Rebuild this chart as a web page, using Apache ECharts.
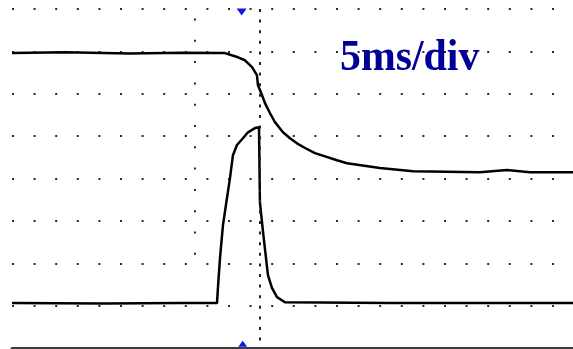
<!DOCTYPE html>
<html>
<head>
<meta charset="utf-8">
<script src="https://cdn.jsdelivr.net/npm/echarts@6/dist/echarts.min.js"></script>
<style>
html,body{margin:0;padding:0;background:#fff;}
#c{width:573px;height:349px;}
</style>
</head>
<body>
<div id="c"></div>
<script>
// Time in ms (5 ms/div), trigger at 0; level in vertical divisions (0 = bottom, 8 = top)
var upperTime  = [-19.08, -15.0, -10.0, -6.0, -2.65, -1.64, -1.10, -0.56, -0.18, -0.10, 0.21, 0.44, 0.83, 1.21, 1.83, 2.37, 2.91, 3.53, 4.30, 6.00, 6.77, 9.31, 11.86, 17.03, 19.11, 20.89, 24.21];
var upperLevel = [6.96, 6.98, 6.95, 6.97, 6.96, 6.86, 6.79, 6.63, 6.44, 6.20, 5.97, 5.78, 5.54, 5.33, 5.09, 4.95, 4.83, 4.72, 4.60, 4.43, 4.36, 4.25, 4.17, 4.15, 4.20, 4.15, 4.15];

var pulseTime  = [-19.08, -12.0, -6.0, -3.26, -3.19, -3.03, -2.80, -2.49, -2.26, -2.03, -1.72, -1.26, -0.87, -0.33, -0.02, 0.05, 0.29, 0.67, 0.98, 1.37, 1.98, 10.0, 24.21];
var pulseLevel = [1.06, 1.05, 1.06, 1.06, 1.42, 2.12, 2.90, 3.54, 4.01, 4.55, 4.79, 4.95, 5.09, 5.19, 5.21, 3.44, 2.74, 1.72, 1.42, 1.20, 1.08, 1.06, 1.06];

var timeRange  = [-19.08, 24.21];
var levelRange = [0, 8];
var triggerMarkerTop    = [-1.36, 7.93];
var triggerMarkerBottom = [-1.28, 0.1];
var centerLineTime = 0;
var auxLineTime = -5;
var auxLineLevels = [2.2, 7.95];
var scaleLabel = '5ms/div';

function pairs(xs, ys){ return xs.map(function(x,i){ return [x, ys[i]]; }); }

var chart = echarts.init(document.getElementById('c'), null, {renderer:'canvas'});
chart.setOption({
  animation: false,
  backgroundColor: '#ffffff',
  grid: {left: 12, right: 0, top: 9, bottom: 1},
  xAxis: {
    type: 'value', min: timeRange[0], max: timeRange[1],
    axisLine: {show: true, lineStyle: {color: '#3c3c3c', width: 3}},
    axisTick: {show: false}, axisLabel: {show: false}, splitLine: {show: false}
  },
  yAxis: {
    type: 'value', min: levelRange[0], max: levelRange[1], interval: 1,
    axisLine: {show: false}, axisTick: {show: false}, axisLabel: {show: false},
    splitLine: {show: true, lineStyle: {color: '#2a2a2a', width: 2, type: [2, 19.6], dashOffset: 0}}
  },
  graphic: [{
    type: 'text', x: 340, y: 37, scaleX: 0.95, originX: 0,
    style: {text: scaleLabel, font: 'bold 44px "Liberation Serif", "Times New Roman", serif', fill: '#000099'}
  }],
  series: [
    {
      type: 'line', data: pairs(upperTime, upperLevel), showSymbol: false, symbol: 'none',
      lineStyle: {color: '#000', width: 2.5}, z: 3,
      markLine: {
        silent: true, symbol: 'none', label: {show: false},
        data: [
          [{coord: [centerLineTime, levelRange[1]], lineStyle: {color: '#222', width: 2, type: [3, 7.6]}},
           {coord: [centerLineTime, levelRange[0]]}],
          [{coord: [auxLineTime, auxLineLevels[0]], lineStyle: {color: '#2a2a2a', width: 2, type: [2, 19.3]}},
           {coord: [auxLineTime, auxLineLevels[1]]}]
        ],
        lineStyle: {color: '#222', width: 2, type: [3, 7.6]}
      }
    },
    {
      type: 'line', data: pairs(pulseTime, pulseLevel), showSymbol: false, symbol: 'none',
      lineStyle: {color: '#000', width: 2.5}, z: 3,
      markPoint: {
        silent: true, label: {show: false},
        data: [
          {coord: triggerMarkerTop, symbol: 'triangle', symbolRotate: 180, symbolSize: [10, 7], itemStyle: {color: '#1414e6'}},
          {coord: triggerMarkerBottom, symbol: 'triangle', symbolSize: [9, 6], itemStyle: {color: '#1414e6'}}
        ]
      }
    }
  ]
});
</script>
</body>
</html>
